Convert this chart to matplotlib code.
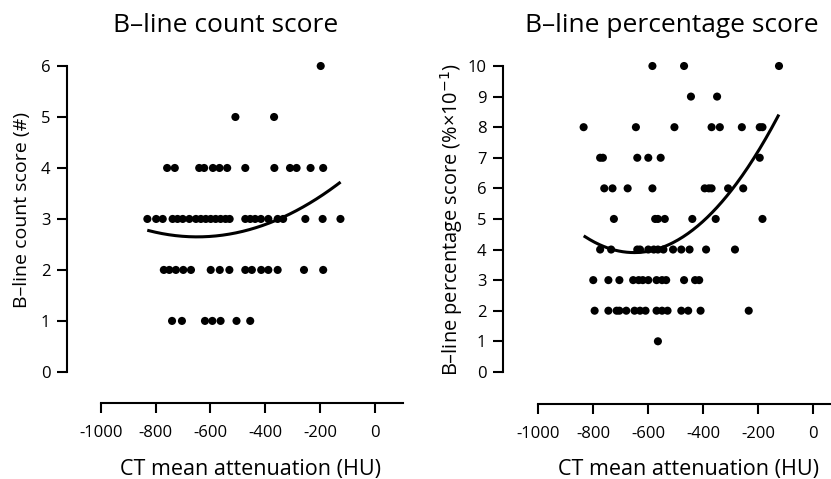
import matplotlib
matplotlib.use('Agg')
import numpy as np
import matplotlib.pyplot as plt

plt.rcParams['font.family'] = ['Open Sans', 'DejaVu Sans']

# B-line count score: CT attenuation (HU) per score level
count_x = {
    6: [-198],
    5: [-509, -368],
    4: [-758, -730, -641, -623, -591, -567, -539, -473, -367, -310, -286, -235, -189],
    3: [-830, -798, -774, -738, -720, -701, -677, -653, -635, -617, -599, -581, -563,
        -545, -530, -473, -455, -437, -416, -389, -355, -335, -254, -191, -126],
    2: [-770, -750, -726, -699, -671, -599, -566, -531, -473, -449, -415, -389, -355,
        -259, -189],
    1: [-740, -704, -620, -593, -563, -505, -455],
}
# points
count_fit_x = [-825, -650, -365, -130]
count_fit_y = [2.78, 2.63, 2.98, 3.70]

# B-line percentage score
pct_x = {
    10: [-585, -470, -125],
    9: [-445, -350],
    8: [-835, -645, -505, -370, -340, -260, -195, -185],
    7: [-775, -765, -640, -600, -555, -195],
    6: [-760, -730, -675, -585, -395, -380, -370, -310, -255],
    5: [-725, -575, -565, -540, -440, -355, -185],
    4: [-775, -735, -640, -630, -600, -580, -565, -545, -510, -480, -450, -390, -285],
    3: [-800, -745, -705, -655, -635, -620, -600, -570, -550, -535, -470, -430, -415],
    2: [-795, -745, -715, -705, -680, -650, -630, -610, -570, -550, -530, -480, -455,
        -410, -235],
    1: [-565],
}
pct_fit_x = [-830, -655, -437, -256, -128]
pct_fit_y = [4.42, 3.89, 4.70, 6.38, 8.40]

x_ticks = [-1000, -800, -600, -400, -200, 0]


def flatten(d):
    xs, ys = [], []
    for score, vals in d.items():
        xs.extend(vals)
        ys.extend([score] * len(vals))
    return np.array(xs, float), np.array(ys, float)


def draw_panel(ax, data, fit_x, fit_y, ytop, ybottom, xlim, xend):
    xs, ys = flatten(data)
    ax.scatter(xs, ys, s=34, color='black', edgecolors='none', clip_on=False, zorder=3)
    coef = np.polyfit(fit_x, fit_y, 2)                      # quadratic trend line
    xx = np.linspace(min(fit_x), max(fit_x), 200)
    ax.plot(xx, np.polyval(coef, xx), color='black', lw=2.2, clip_on=False)

    ax.set_xlim(*xlim)
    ax.set_ylim(ybottom, ytop)
    for s in ['top', 'right']:
        ax.spines[s].set_visible(False)
    ax.spines['left'].set_bounds(0, ytop)
    ax.spines['bottom'].set_bounds(-1000, xend)
    for s in ['left', 'bottom']:
        ax.spines[s].set_linewidth(1.5)
    ax.set_xticks(x_ticks)
    ax.set_xticklabels([str(t) for t in x_ticks])
    ax.set_yticks(range(0, ytop + 1))
    ax.tick_params(length=7, width=1.5, labelsize=12)
    ax.tick_params(axis='x', pad=9)
    ax.tick_params(axis='y', pad=5)


fig = plt.figure(figsize=(8.31, 4.79), dpi=100)

ax1 = fig.add_axes([67 / 831, 1 - 403 / 479, 336 / 831, 337 / 479])
draw_panel(ax1, count_x, count_fit_x, count_fit_y, 6, -0.61, (-1123, 102), 102)

ax2 = fig.add_axes([503 / 831, 1 - 404 / 479, 328 / 831, 338 / 479])
draw_panel(ax2, pct_x, pct_fit_x, pct_fit_y, 10, -1.05, (-1128, 64), 64)

fig.text(226 / 831, 1 - 26 / 479, 'B\u2013line count score', ha='center', va='center', fontsize=19)
fig.text(672 / 831, 1 - 26 / 479, 'B\u2013line percentage score', ha='center', va='center', fontsize=19)

fig.text(251 / 831, 1 - 469 / 479, 'CT mean attenuation (HU)', ha='center', va='center', fontsize=15.5)
fig.text(689 / 831, 1 - 469 / 479, 'CT mean attenuation (HU)', ha='center', va='center', fontsize=15.5)

fig.text(22 / 831, 1 - 210 / 479, 'B\u2013line count score (#)', rotation=90,
         ha='center', va='center', fontsize=14)
fig.text(452 / 831, 1 - 219 / 479, 'B\u2013line percentage score (%\u00d710$^{-1}$)', rotation=90,
         ha='center', va='center', fontsize=14.4)

fig.savefig('out.png', dpi=100)
